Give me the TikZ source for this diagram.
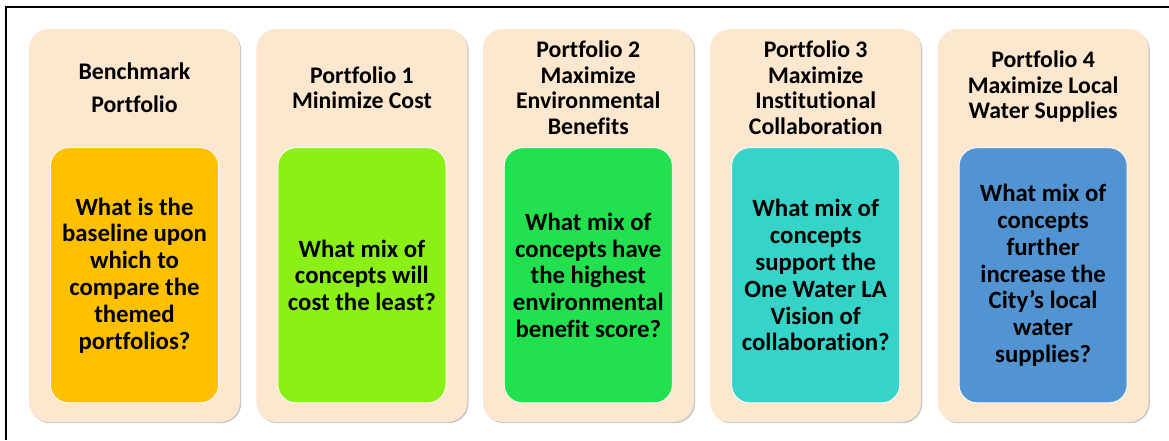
\documentclass[tikz,border=0pt]{standalone}
\usepackage{fontspec}
\setmainfont[Ligatures=NoCommon]{Carlito}
\usepackage{tikz}
\usetikzlibrary{positioning, shadows}
\definecolor{ppeach}{HTML}{FDE7CF}
\definecolor{pamber}{HTML}{FFC000}
\definecolor{plime}{HTML}{8AF015}
\definecolor{pgreen}{HTML}{23E04F}
\definecolor{pteal}{HTML}{36D3C8}
\definecolor{pblue}{HTML}{5294D2}
\tikzset{
  panel/.style={rectangle, rounded corners=20pt, fill=ppeach, draw=none,
                general shadow={shadow xshift=1.2pt, shadow yshift=-1.2pt, fill=black!22},
                minimum width=211pt, minimum height=393pt, inner sep=0pt},
  ptitle/.style={align=center, font=\fontsize{23.8}{25.7}\selectfont\bfseries, inner sep=0pt},
  qbox/.style={rectangle, rounded corners=18pt, draw=white, line width=0.8pt,
               minimum width=168pt, minimum height=255pt, inner sep=0pt,
               align=center, font=\fontsize{24.8}{26.8}\selectfont\bfseries},
  amber/.style={fill=pamber},
  lime/.style={fill=plime},
  green/.style={fill=pgreen},
  teal/.style={fill=pteal},
  blue/.style={fill=pblue}
}
\begin{document}
\begin{tikzpicture}[x=1pt, y=-1pt, node distance=16pt]
  \useasboundingbox (0,0) rectangle (1169,440);
  \coordinate (fbl) at (6,440); \coordinate (ftl) at (6,7); \coordinate (ftr) at (1169,7);
  \draw[line width=1.5pt] (fbl) -- (ftl) -- (ftr);
  \node[panel] (p1) at (134.5,225.5) {};
  \node[panel, right=of p1] (p2) {};
  \node[panel, right=15pt of p2] (p3) {};
  \node[panel, right=of p3] (p4) {};
  \node[panel, right=of p4] (p5) {};
  \node[ptitle, font=\fontsize{23.8}{33}\selectfont\bfseries] (t1) at ([yshift=-59pt]p1.north) {Benchmark\\Portfolio};
  \node[ptitle] (t2) at ([yshift=-59pt]p2.north) {Portfolio 1\\Minimize Cost};
  \node[ptitle] (t3) at ([yshift=-59pt]p3.north) {Portfolio 2\\Maximize\\Environmental\\Benefits};
  \node[ptitle] (t4) at ([yshift=-59pt]p4.north) {Portfolio 3\\Maximize\\Institutional\\Collaboration};
  \node[ptitle] (t5) at ([yshift=-58pt]p5.north) {Portfolio 4\\Maximize Local\\Water Supplies};
  \node[qbox, amber, above=19pt of p1.south] (q1) {What is the\\baseline upon\\which to\\compare the\\themed\\portfolios?};
  \node[qbox, lime, above=19pt of p2.south] (q2) {What mix of\\concepts will\\cost the least?};
  \node[qbox, green, above=19pt of p3.south] (q3) {What mix of\\concepts have\\the highest\\environmental\\benefit score?};
  \node[qbox, teal, above=19pt of p4.south] (q4) {What mix of\\concepts\\support the\\One Water LA\\Vision of\\collaboration?};
  \node[qbox, blue, above=19pt of p5.south] (q5) {What mix of\\concepts\\further\\increase the\\City’s local\\water\\supplies?};
\end{tikzpicture}
\end{document}
